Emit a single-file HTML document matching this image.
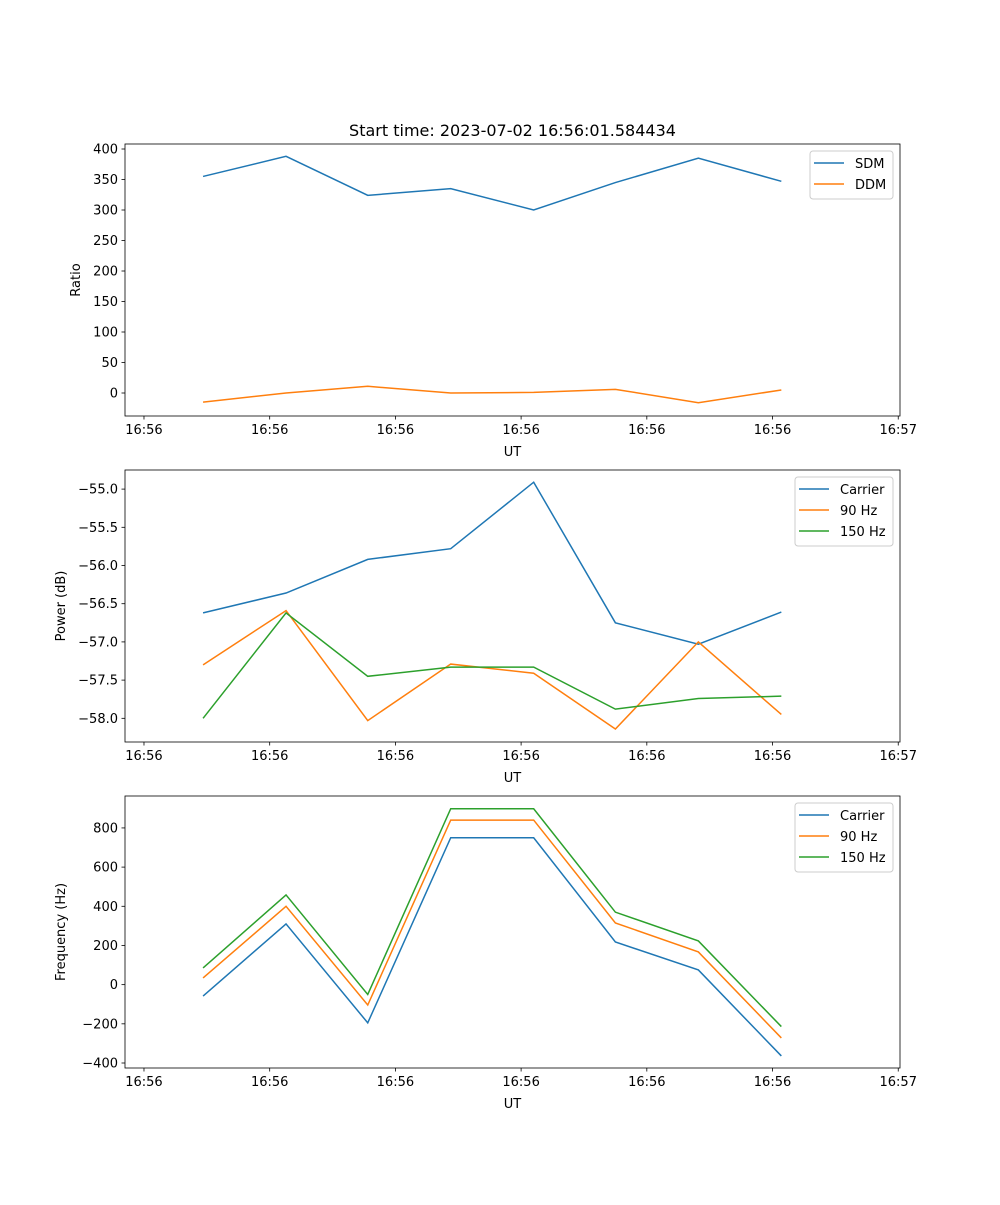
<!DOCTYPE html>
<html><head><meta charset="utf-8"><style>
body{margin:0;background:#fff}
svg{font-family:"DejaVu Sans","Liberation Sans",sans-serif}
</style></head><body>
<svg id="fig" width="1000" height="1200" xmlns="http://www.w3.org/2000/svg">
<text x="512.5" y="136" font-size="16" text-anchor="middle">Start time: 2023-07-02 16:56:01.584434</text>
</svg>
<script>
const times = [4.7, 11.3, 17.8, 24.4, 31.0, 37.5, 44.1, 50.7];
const xTicks = [0, 10, 20, 30, 40, 50, 60];
const xTickLabels = ["16:56","16:56","16:56","16:56","16:56","16:56","16:57"];
const sdm = [355, 388, 324, 335, 300, 345, 385, 347];
const ddm = [-15, 0, 11, 0, 1, 6, -16, 5];
const powCarrier = [-56.62,-56.36,-55.92,-55.78,-54.91,-56.75,-57.03,-56.61];
const pow90 = [-57.30,-56.59,-58.03,-57.29,-57.41,-58.14,-57.0,-57.95];
const pow150 = [-58.0,-56.62,-57.45,-57.33,-57.33,-57.88,-57.74,-57.71];
const freqCarrier = [-58, 310, -195, 750, 750, 218, 75, -364];
const freq90 = [34, 400, -104, 840, 840, 315, 167, -272];
const freq150 = [85, 458, -50, 898, 898, 370, 223, -214];
const ticks1 = [0,50,100,150,200,250,300,350,400];
const ticks2 = [-58.0,-57.5,-57.0,-56.5,-56.0,-55.5,-55.0];
const ticks3 = [-400,-200,0,200,400,600,800];

const NS="http://www.w3.org/2000/svg";
const svg=document.getElementById('fig');
const X0=125,X1=900,tmin=-1.51,tmax=60.14;
const xs=t=>X0+(t-tmin)/(tmax-tmin)*(X1-X0);
function mk(tag,attrs,parent){const e=document.createElementNS(NS,tag);for(const k in attrs)e.setAttribute(k,attrs[k]);(parent||svg).appendChild(e);return e;}
const colors=["#1f77b4","#ff7f0e","#2ca02c"];
function panel(name,top,ymin,ymax,ticks,fmt,ylabel,series,labels,legendW){
  const bot=top+272;
  const ys=v=>bot-(v-ymin)/(ymax-ymin)*272;
  const g=mk('g',{});
  
  
  series.forEach((s,i)=>{
    const p=mk('polyline',{points:s.map((v,j)=>xs(times[j])+','+ys(v)).join(' '),fill:'none',stroke:colors[i],'stroke-width':1.5},g);
    
    
  });
  const fr=mk('rect',{x:X0,y:top,width:X1-X0,height:272,fill:'none',stroke:'#000','stroke-width':0.8},g);
  
  
  xTicks.forEach((t,i)=>{
    const x=xs(t);
    mk('line',{x1:x,x2:x,y1:bot,y2:bot+3.5,stroke:'#000','stroke-width':0.8},g);
    const tx=mk('text',{x:x,y:bot+18,'font-size':13,'text-anchor':'middle'},g);
    tx.textContent=xTickLabels[i];
    
    
  });
  ticks.forEach(v=>{
    const y=ys(v);
    mk('line',{x1:X0-3.5,x2:X0,y1:y,y2:y,stroke:'#000','stroke-width':0.8},g);
    const tx=mk('text',{x:X0-7,y:y+4.5,'font-size':13,'text-anchor':'end'},g);
    tx.textContent=fmt(v);
    
    
  });
  const xl=mk('text',{x:512.5,y:bot+40,'font-size':13,'text-anchor':'middle'},g);
  xl.textContent='UT';
  
  
  const yl=mk('text',{x:0,y:0,'font-size':13,'text-anchor':'middle',transform:`translate(${name==='ratio'?80:65},${top+136}) rotate(-90)`},g);
  yl.textContent=ylabel;
  
  
  const lh=labels.length*21+6, lx=893-legendW, ly=top+7;
  const lg=mk('g',{},g);
  
  
  mk('rect',{x:lx,y:ly,width:legendW,height:lh,rx:3,fill:'#fff','fill-opacity':0.8,stroke:'#ccc'},lg);
  labels.forEach((l,i)=>{
    const yy=ly+12+i*21;
    mk('line',{x1:lx+4,x2:lx+34,y1:yy,y2:yy,stroke:colors[i],'stroke-width':1.5},lg);
    const t=mk('text',{x:lx+45,y:yy+5,'font-size':13},lg);
    t.textContent=l;
    
    
  });
}
panel('ratio',144,-37.7,408.2,ticks1,v=>String(v),'Ratio',[sdm,ddm],['SDM','DDM'],83);
panel('power',470,-58.31,-54.75,ticks2,v=>'\u2212'+Math.abs(v).toFixed(1),'Power (dB)',[powCarrier,pow90,pow150],['Carrier','90 Hz','150 Hz'],98);
panel('frequency',796,-425.5,963,ticks3,v=>v<0?'\u2212'+Math.abs(v):String(v),'Frequency (Hz)',[freqCarrier,freq90,freq150],['Carrier','90 Hz','150 Hz'],98);
</script>
</body></html>
